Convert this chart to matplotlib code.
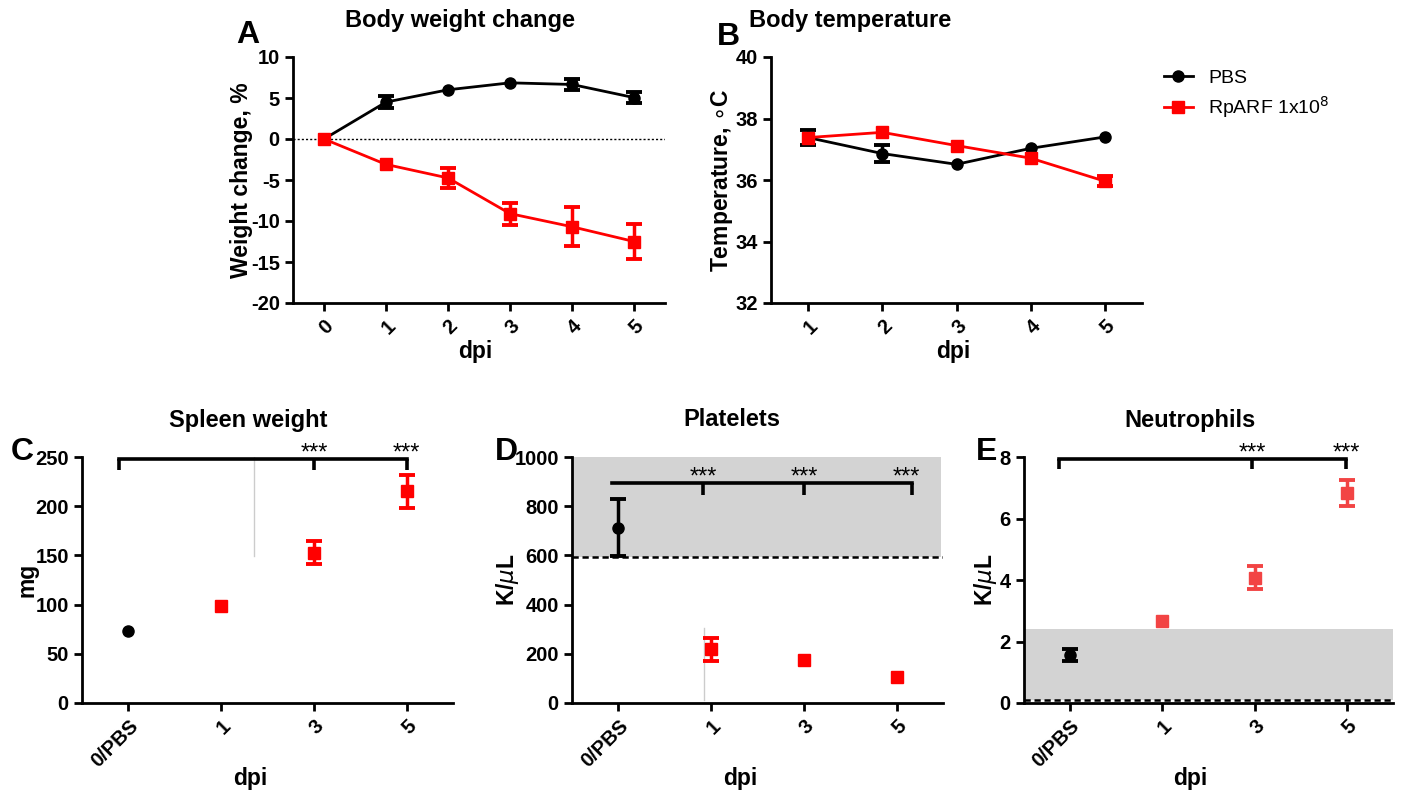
import numpy as np
import matplotlib
matplotlib.use('Agg')
import matplotlib.pyplot as plt
from matplotlib.lines import Line2D

plt.rcParams['font.family'] = ['Liberation Sans', 'DejaVu Sans']
plt.rcParams['axes.unicode_minus'] = False
plt.rcParams['mathtext.fontset'] = 'dejavusans'

RED = '#ff0000'
RED_E = '#f24444'
SHADE = '#d3d3d3'

# panel A: body weight change (%)
days_a = [0, 1, 2, 3, 4, 5]
pbs_weight = [0, 4.5, 6.0, 6.85, 6.65, 5.05]
pbs_weight_err = [0, 0.7, 0, 0, 0.65, 0.7]
rp_weight = [0, -3.1, -4.75, -9.1, -10.7, -12.5]
rp_weight_err = [0, 0, 1.2, 1.35, 2.4, 2.15]

# panel B: body temperature (C)
days_b = [1, 2, 3, 4, 5]
pbs_temp = [37.38, 36.86, 36.51, 37.03, 37.40]
pbs_temp_err = [0.24, 0.28, 0, 0, 0]
rp_temp = [37.38, 37.55, 37.12, 36.71, 35.96]
rp_temp_err = [0, 0, 0, 0, 0.17]

# panels C-E: categories on x
groups = ['0/PBS', '1', '3', '5']
spleen = [73, 98.2, 152.9, 215]
spleen_err = [0, 0, 11.7, 16.7]
platelets = [713, 219, 175.7, 105.4]
platelets_err = [115, 47, 0, 0]
neutro = [1.55, 2.66, 4.08, 6.83]
neutro_err = [0.19, 0, 0.37, 0.41]

# reference ranges (shaded)
platelet_range = [593, 1000]
neutro_range = [0.09, 2.42]

W, H = 1403, 795
fig = plt.figure(figsize=(W / 100, H / 100), dpi=100)

TICK_FS = 14.5
LAB_FS = 16.5


def px_axes(left, top, right, bottom):
    return fig.add_axes([left / W, 1 - bottom / H, (right - left) / W, (bottom - top) / H])


def style(ax):
    for s in ['top', 'right']:
        ax.spines[s].set_visible(False)
    for s in ['left', 'bottom']:
        ax.spines[s].set_linewidth(2.0)
    ax.tick_params(width=2.0, length=6, labelsize=TICK_FS)
    for lab in ax.get_xticklabels() + ax.get_yticklabels():
        lab.set_fontweight('bold')


def rot_xlabels(ax, labels):
    ax.set_xticklabels(labels, rotation=45, ha='right', va='top',
                       rotation_mode='anchor', fontweight='bold', fontsize=TICK_FS)


def series(ax, x, y, e, color, marker, line=False):
    ms = 8 if marker == 'o' else 8.5
    ax.plot(x, y, marker=marker, ls='-' if line else 'none', color=color,
            ms=ms, lw=2.0, zorder=3)
    x = np.atleast_1d(x)
    y = np.atleast_1d(y)
    e = np.atleast_1d(e)
    keep = e > 0
    if keep.any():
        ax.errorbar(x[keep], y[keep], yerr=e[keep], fmt='none', ecolor=color,
                    elinewidth=2.5, capsize=5.5, capthick=2.8, zorder=3)


def stars(ax, x, y):
    ax.annotate('***', (x, y), xytext=(0, -0.5), textcoords='offset points',
                ha='center', va='baseline', fontsize=17, annotation_clip=False)


def bracket(ax, x0, ys, drops, y_low):
    xs = list(drops)
    ax.plot([x0, max(xs)], [ys, ys], color='black', lw=2.6, clip_on=False, zorder=4)
    for x in [x0] + xs:
        ax.plot([x, x], [ys, y_low], color='black', lw=2.6, clip_on=False, zorder=4,
                solid_capstyle='butt')


lab_kw = dict(fontsize=LAB_FS, fontweight='bold')

# ---- A
ax = px_axes(293, 57, 665, 303)
ax.axhline(0, color='black', lw=1, ls=(0, (1.5, 1.5)), zorder=1)
series(ax, days_a, pbs_weight, pbs_weight_err, 'black', 'o', line=True)
series(ax, days_a, rp_weight, rp_weight_err, RED, 's', line=True)
ax.set_xlim(-0.5, 5.5)
ax.set_ylim(-20, 10)
ax.set_yticks([-20, -15, -10, -5, 0, 5, 10])
ax.set_xticks(days_a)
style(ax)
rot_xlabels(ax, [str(d) for d in days_a])
ax.set_ylabel('Weight change, %', **lab_kw)
ax.yaxis.set_label_coords(-0.108, 0.5)
ax.set_xlabel('dpi', **lab_kw)
ax.xaxis.set_label_coords(0.49, -0.15)

# ---- B
ax = px_axes(771, 57, 1142, 303)
series(ax, days_b, pbs_temp, pbs_temp_err, 'black', 'o', line=True)
series(ax, days_b, rp_temp, rp_temp_err, RED, 's', line=True)
ax.set_xlim(0.5, 5.5)
ax.set_ylim(32, 40)
ax.set_yticks([32, 34, 36, 38, 40])
ax.set_xticks(days_b)
style(ax)
rot_xlabels(ax, [str(d) for d in days_b])
ax.set_ylabel(r'Temperature, $\circ$C', **lab_kw)
ax.yaxis.set_label_coords(-0.097, 0.5)
ax.set_xlabel('dpi', **lab_kw)
ax.xaxis.set_label_coords(0.49, -0.15)

handles = [Line2D([], [], color='black', marker='o', ms=8, lw=2),
           Line2D([], [], color=RED, marker='s', ms=8.5, lw=2)]
fig.legend(handles, ['PBS', 'RpARF 1x10$^8$'], loc='upper left',
           bbox_to_anchor=(1146 / W, 1 - 52 / H), frameon=False, fontsize=14,
           handlelength=1.5, labelspacing=0.35)

xs = np.arange(len(groups))
colors = ['black', RED, RED, RED]
markers = ['o', 's', 's', 's']

# ---- C
ax = px_axes(82, 457, 453, 703)
ax.plot([1.35, 1.35], [149, 250], color='#cccccc', lw=1, zorder=1)
for x, y, e, c, m in zip(xs, spleen, spleen_err, colors, markers):
    series(ax, x, y, e, c, m)
ax.set_xlim(-0.5, 3.5)
ax.set_ylim(0, 250)
ax.set_yticks([0, 50, 100, 150, 200, 250])
ax.set_xticks(xs)
style(ax)
rot_xlabels(ax, groups)
bracket(ax, -0.1, 248, [2, 3], 237)
for x in [2, 3]:
    stars(ax, x, 248)
ax.set_ylabel('mg', **lab_kw)
ax.yaxis.set_label_coords(-0.118, 0.5)
ax.set_xlabel('dpi', **lab_kw)
ax.xaxis.set_label_coords(0.453, -0.262)

# ---- D
ax = px_axes(572, 457, 943, 703)
ax.axhspan(platelet_range[0], platelet_range[1], xmin=0, xmax=0.995, color=SHADE, lw=0, zorder=0)
ax.axhline(platelet_range[0], color='black', lw=1.8, ls=(0, (2.5, 1.5)), zorder=1)
ax.plot([0.92, 0.92], [13, 304], color='#cccccc', lw=1, zorder=1)
for x, y, e, c, m in zip(xs, platelets, platelets_err, colors, markers):
    series(ax, x, y, e, c, m)
ax.set_xlim(-0.5, 3.5)
ax.set_ylim(0, 1000)
ax.set_yticks([0, 200, 400, 600, 800, 1000])
ax.set_xticks(xs)
style(ax)
rot_xlabels(ax, groups)
ax.plot([-0.07, 3.17], [895, 895], color='black', lw=2.6, zorder=4)
for x in [0.91, 2.0, 3.17]:
    ax.plot([x, x], [895, 845], color='black', lw=2.6, zorder=4, solid_capstyle='butt')
for x in [0.92, 2.01, 3.11]:
    stars(ax, x, 895)
ax.set_ylabel(r'K/$\mu$L', **lab_kw)
ax.yaxis.set_label_coords(-0.137, 0.5)
ax.set_xlabel('dpi', **lab_kw)
ax.xaxis.set_label_coords(0.453, -0.262)

# ---- E
ax = px_axes(1024, 457, 1393, 703)
ax.axhspan(neutro_range[0], neutro_range[1], color=SHADE, lw=0, zorder=0)
ax.axhline(neutro_range[0], color='black', lw=1.8, ls=(0, (2.5, 1.5)), zorder=1)
for x, y, e, c, m in zip(xs, neutro, neutro_err, ['black', RED_E, RED_E, RED_E], markers):
    series(ax, x, y, e, c, m)
ax.set_xlim(-0.5, 3.5)
ax.set_ylim(0, 8)
ax.set_yticks([0, 2, 4, 6, 8])
ax.set_xticks(xs)
style(ax)
rot_xlabels(ax, groups)
bracket(ax, -0.12, 7.93, [1.97, 2.99], 7.6)
for x in [1.97, 2.99]:
    stars(ax, x, 7.93)
ax.set_ylabel(r'K/$\mu$L', **lab_kw)
ax.yaxis.set_label_coords(-0.068, 0.5)
ax.set_xlabel('dpi', **lab_kw)
ax.xaxis.set_label_coords(0.45, -0.262)

# titles and panel letters
title_kw = dict(fontsize=17, fontweight='bold', ha='center', va='center')
fig.text(460 / W, 1 - 20 / H, 'Body weight change', **title_kw)
fig.text(850 / W, 1 - 20 / H, 'Body temperature', **title_kw)
fig.text(248 / W, 1 - 420 / H, 'Spleen weight', **title_kw)
fig.text(732 / W, 1 - 420 / H, 'Platelets', **title_kw)
fig.text(1190 / W, 1 - 420 / H, 'Neutrophils', **title_kw)

letter_kw = dict(fontsize=23, fontweight='bold', ha='center', va='center')
for letter, x, y in [('A', 248, 35), ('B', 728, 37), ('C', 22, 452),
                     ('D', 506, 452), ('E', 987, 452)]:
    fig.text(x / W, 1 - y / H, letter, **letter_kw)

fig.savefig('out.png', dpi=100)
